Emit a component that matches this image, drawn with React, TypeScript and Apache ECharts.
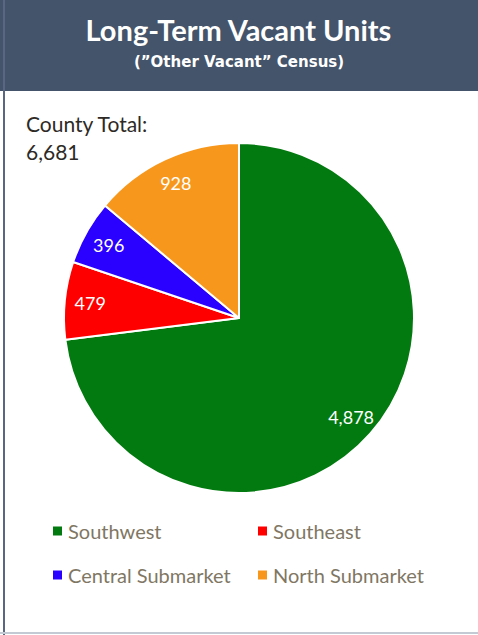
import React, { useEffect, useRef } from "react";
import * as echarts from "echarts";

const categories = ["Southwest", "Southeast", "Central Submarket", "North Submarket"];
const values = [4878, 479, 396, 928];
const colors = ["#027A0F", "#FF0000", "#2A00FF", "#F7981D"];
const titleText = "Long-Term Vacant Units";
const subtitleText = "(\u201DOther Vacant\u201D Census)";
const totalLabel = "County Total:";
const totalValue = "6,681";

const FONT = "Lato, 'Open Sans', sans-serif";
const HFONT = "'DejaVu Sans', sans-serif";

export default function App() {
  const ref = useRef<HTMLDivElement>(null);
  useEffect(() => {
    document.body.style.margin = "0";
    const chart = echarts.init(ref.current!, null, { renderer: "svg" });
    const data = categories.map((name, i) => ({
      name,
      value: values[i],
      itemStyle: { color: colors[i] },
    }));
    const fmt = (p: any) => Number(p.value).toLocaleString("en-US");
    chart.setOption({
      animation: false,
      backgroundColor: "#ffffff",
      graphic: [
        { type: "rect", shape: { x: 0, y: 0, width: 478, height: 91 }, style: { fill: "#44546A" }, z: 0 },
        { type: "rect", shape: { x: 3, y: 0, width: 2, height: 635 }, style: { fill: "#5B6682" }, z: 1 },
        { type: "rect", shape: { x: 0, y: 632, width: 478, height: 2 }, style: { fill: "#C3CAD3" }, z: 1 },
        {
          type: "text", left: "center", top: 15, z: 2,
          style: { text: titleText, fill: "#ffffff", font: `bold 29px ${FONT}` },
        },
        {
          type: "text", left: "center", top: 54, z: 2,
          style: { text: subtitleText, fill: "#ffffff", font: `bold 15px ${HFONT}` },
        },
        {
          type: "text", left: 26, top: 113, z: 2,
          style: { text: totalLabel, fill: "#2E2A25", font: `21px ${FONT}` },
        },
        {
          type: "text", left: 26, top: 141, z: 2,
          style: { text: totalValue, fill: "#2E2A25", font: `21px ${FONT}` },
        },
      ],
      legend: [
        {
          data: [categories[0], categories[2]],
          orient: "vertical", left: 46, top: 516, itemGap: 24,
          icon: "rect", itemWidth: 11, itemHeight: 11,
          textStyle: { color: "#7F7764", fontSize: 20, fontFamily: FONT },
        },
        {
          data: [categories[1], categories[3]],
          orient: "vertical", left: 251, top: 516, itemGap: 24,
          icon: "rect", itemWidth: 11, itemHeight: 11,
          textStyle: { color: "#7F7764", fontSize: 20, fontFamily: FONT },
        },
      ],
      series: [
        {
          type: "pie",
          center: [239, 318],
          radius: [0, 175],
          startAngle: 90,
          clockwise: true,
          data,
          label: { show: false },
          labelLine: { show: false },
          itemStyle: { borderColor: "#ffffff", borderWidth: 2 },
          silent: true,
        },
        {
          type: "pie",
          center: [239, 318],
          radius: [118, 175],
          startAngle: 90,
          clockwise: true,
          data: categories.map((name, i) => ({ name, value: values[i], itemStyle: { color: "rgba(0,0,0,0)" } })),
          label: {
            show: true, position: "inside", formatter: fmt,
            color: "#ffffff", fontSize: 18, fontFamily: FONT,
          },
          labelLine: { show: false },
          itemStyle: { borderWidth: 0 },
          silent: true,
        },
      ],
    });
    return () => chart.dispose();
  }, []);
  return <div ref={ref} style={{ width: 478, height: 635 }} />;
}
